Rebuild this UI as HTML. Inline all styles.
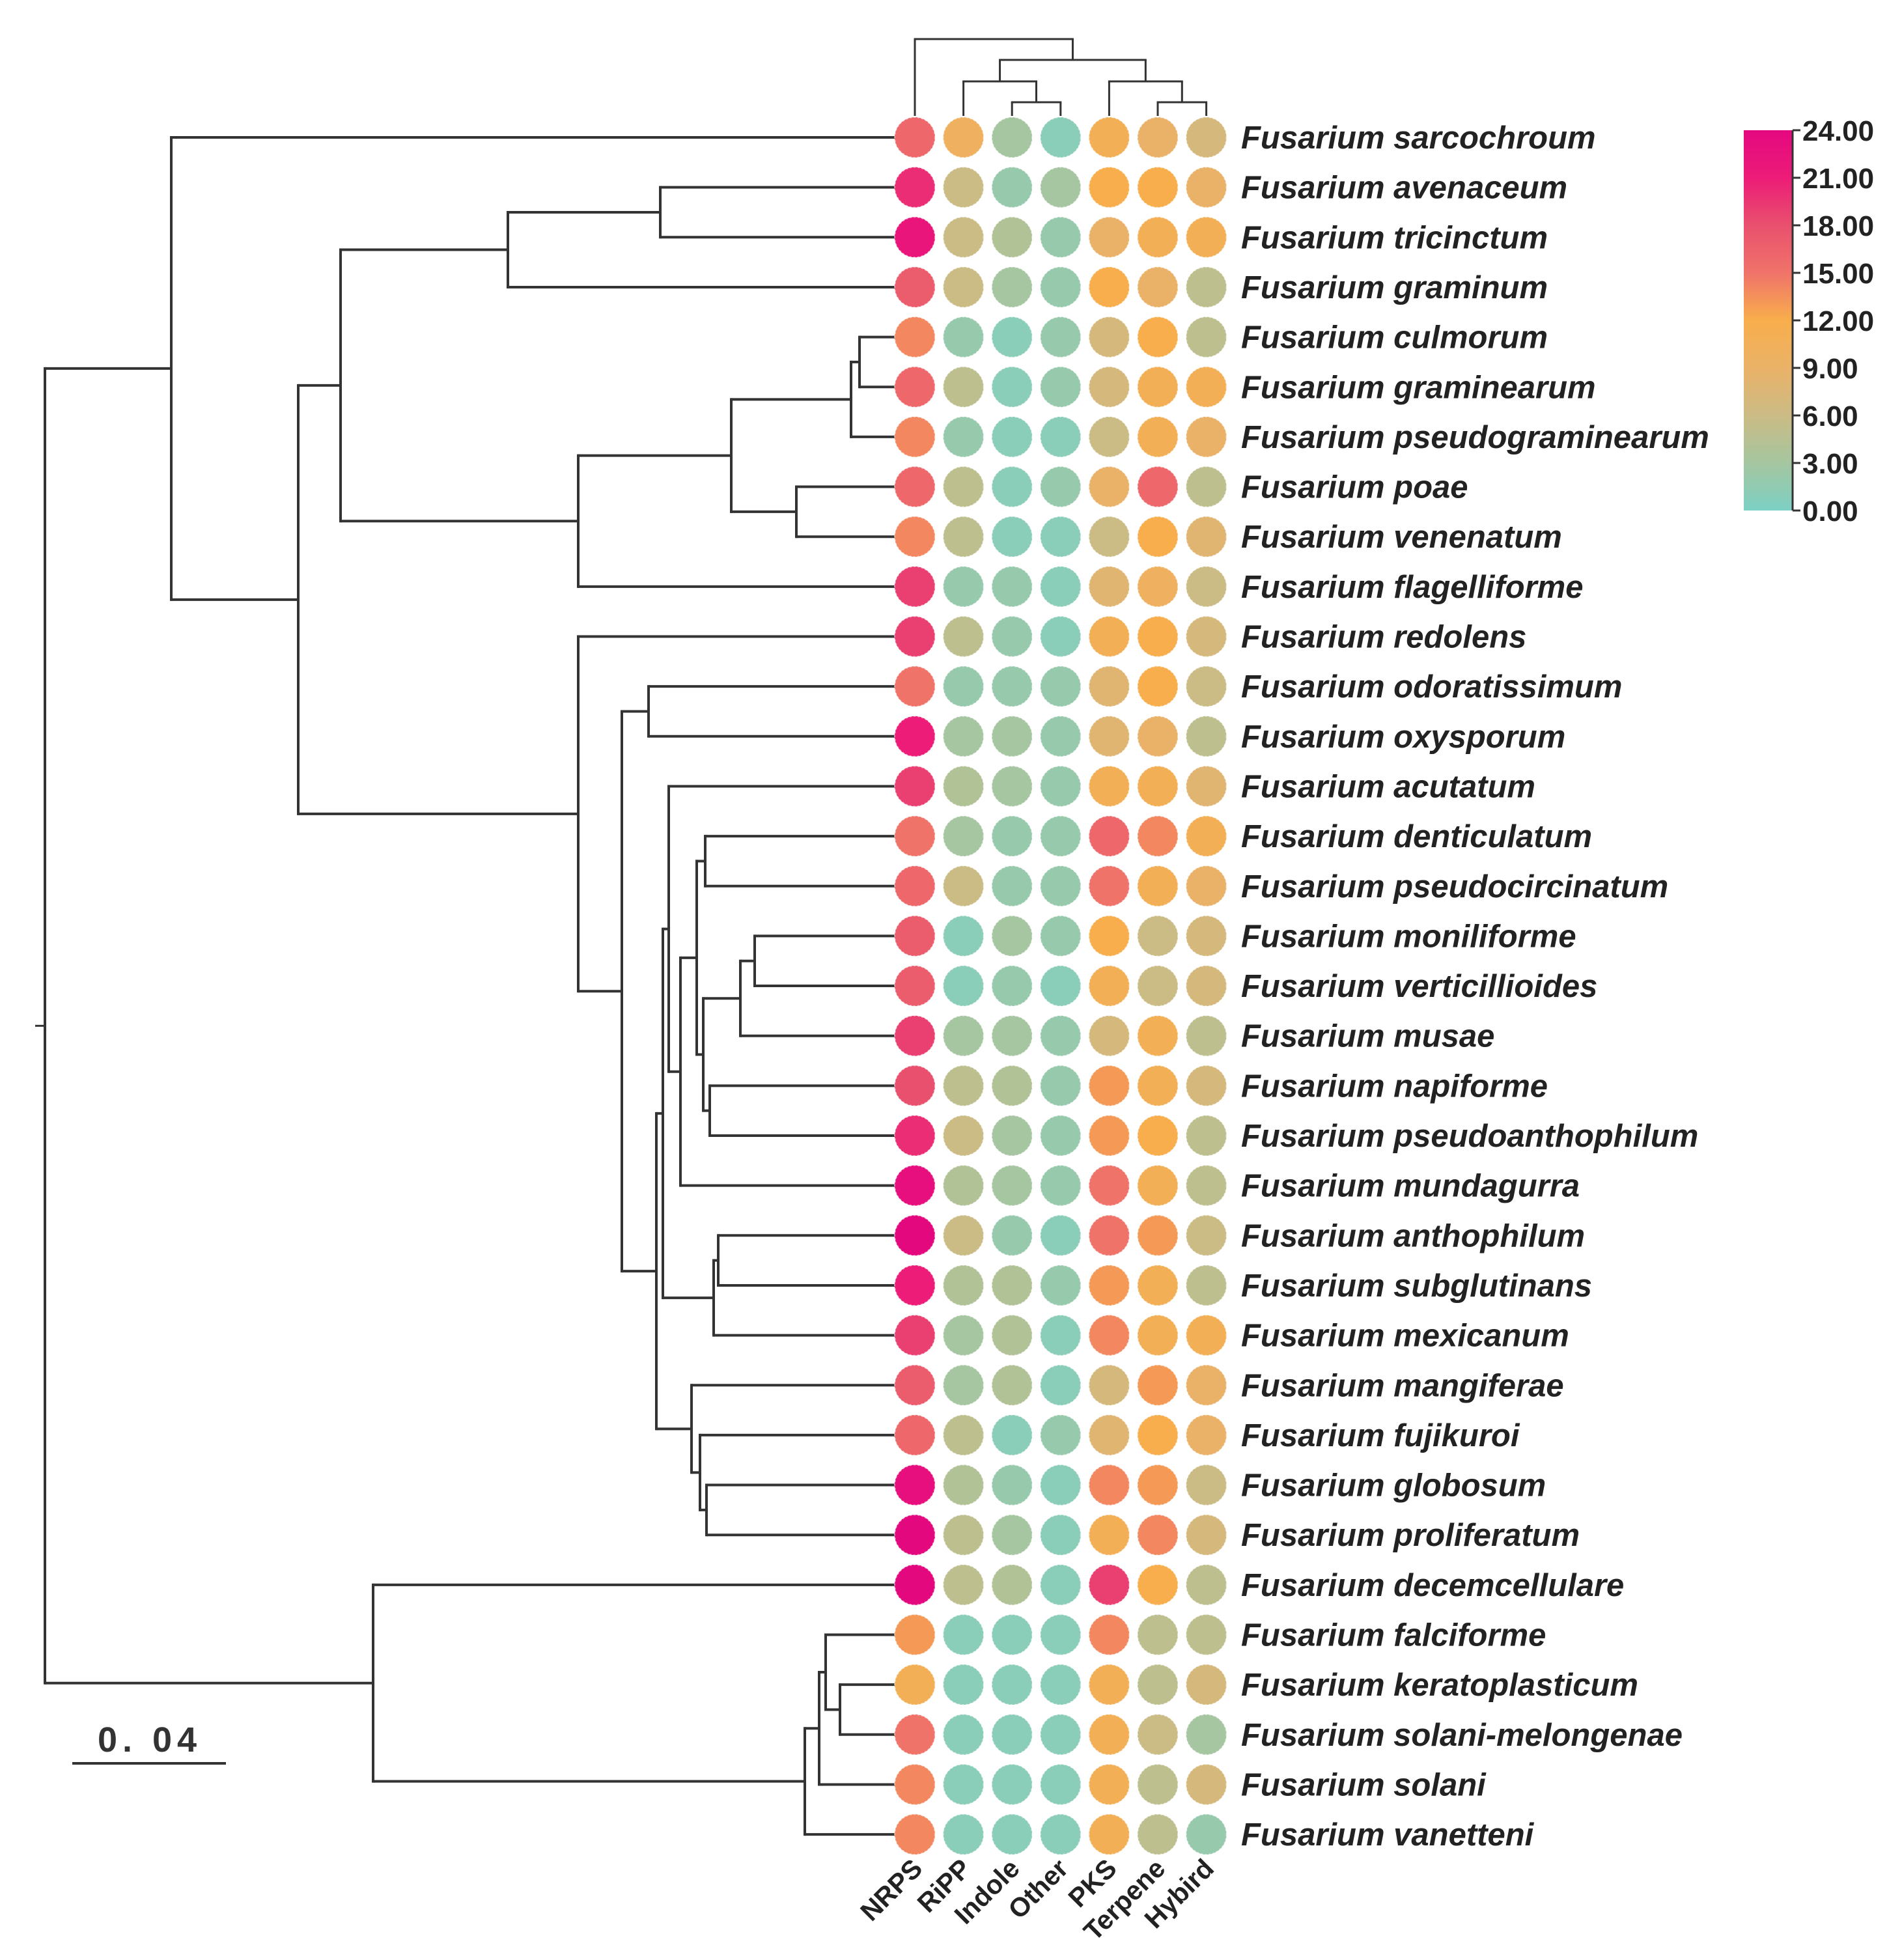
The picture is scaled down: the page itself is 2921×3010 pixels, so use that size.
<!DOCTYPE html>
<html><head><meta charset="utf-8"><style>html,body{margin:0;padding:0;background:#fff}svg{display:block}</style></head>
<body>
<svg id="chart" width="2921" height="3010" viewBox="0 0 2921 3010" xmlns="http://www.w3.org/2000/svg" font-family="Liberation Sans, Arial, sans-serif">
<g id="tree"></g>
<g id="coltree"></g>
<g id="cells"></g>
<g id="rowlabels"></g>
<g id="collabels"></g>
<g id="legend"></g>
<g>
<text x="230" y="2690" font-size="54" font-weight="bold" fill="#333" text-anchor="middle" letter-spacing="8">0. 04</text>
<line x1="111" y1="2708" x2="347" y2="2708" stroke="#333" stroke-width="4"/>
</g>
</svg>
<script>
const species = ["sarcochroum","avenaceum","tricinctum","graminum","culmorum","graminearum","pseudograminearum","poae","venenatum","flagelliforme","redolens","odoratissimum","oxysporum","acutatum","denticulatum","pseudocircinatum","moniliforme","verticillioides","musae","napiforme","pseudoanthophilum","mundagurra","anthophilum","subglutinans","mexicanum","mangiferae","fujikuroi","globosum","proliferatum","decemcellulare","falciforme","keratoplasticum","solani-melongenae","solani","vanetteni"];
const types = ["NRPS","RiPP","Indole","Other","PKS","Terpene","Hybird"];
const NRPS = [16,20,22,17,14,16,14,16,14,19,19,15,21,19,15,16,17,17,19,18,20,23,24,21,19,17,16,23,24,24,13,11,15,14,14];
const RiPP = [10,6,6,6,2,5,2,5,5,2,5,2,3,4,3,6,1,1,3,5,6,4,6,4,3,3,5,4,5,5,1,1,1,1,1];
const Indole = [3,2,4,3,1,1,1,1,1,2,2,2,3,3,2,2,3,2,3,4,3,3,2,4,4,4,1,2,3,4,1,1,1,1,1];
const Other = [1,3,2,2,2,2,1,2,1,1,1,2,2,2,2,2,2,1,2,2,2,2,1,2,1,1,2,1,1,1,1,1,1,1,1];
const PKS = [11,12,9,12,7,7,6,9,6,8,11,8,8,11,16,15,12,11,7,13,13,15,15,13,14,7,8,14,11,19,14,11,11,11,11];
const Terpene = [9,12,11,9,12,11,11,16,12,10,12,12,9,11,14,11,6,6,11,11,12,11,13,11,11,13,12,13,14,12,5,5,6,5,5];
const Hybird = [7,9,11,5,5,11,9,5,8,6,7,6,5,8,11,9,7,7,5,7,5,5,6,5,11,9,9,6,7,5,5,7,3,7,2];
const colorTicks = ["0.00","3.00","6.00","9.00","12.00","15.00","18.00","21.00","24.00"];
// tree: [name, branch-depth, children]; leaves are species indices
const treeNodes = ["root",69,[["A",263,[0,["A1",458,[["A2",523,[["A3",780,[["A4",1014,[1,2]],3]],["A5",888,[["A6",1123,[["A7",1307,[["A8",1320,[4,5]],6]],["A9",1223,[7,8]]]],9]]]],["B",888,[10,["B1",955,[["B2",996,[11,12]],["B3",1008,[["B4",1018,[["B6",1027,[13,["B8",1045,[["B9",1070,[["B10",1083,[14,15]],["B11",1080,[["B12",1137,[["B14",1159,[16,17]],18]],["B13",1090,[19,20]]]]]],21]]]],["B7",1096,[["B15",1103,[22,23]],24]]]],["B5",1062,[25,["B16",1075,[26,["B17",1085,[27,28]]]]]]]]]]]]]]]],["C",573,[29,["C1",1236,[["C2",1258,[["C3",1268,[30,["C4",1290,[31,32]]]],33]],34]]]]]];
const colTree = ["croot",60,[0,["c1",92,[["c2",125,[1,["c3",157,[2,3]]]],["c4",125,[4,["c5",157,[5,6]]]]]]]];

const NS="http://www.w3.org/2000/svg";
const series=[NRPS,RiPP,Indole,Other,PKS,Terpene,Hybird];
const rowY=i=>211+i*76.65, colX=j=>1405+j*74.6;
const leafX=1374, colLeafY=178;
function mk(tag,attrs,parent){const e=document.createElementNS(NS,tag);for(const k in attrs)e.setAttribute(k,attrs[k]);parent.appendChild(e);return e;}
const stops=[[0,[124,208,196]],[3,[165,198,160]],[6,[203,187,133]],[9,[234,178,104]],[12,[248,174,76]],[15,[240,115,106]],[18,[233,80,110]],[21,[236,28,120]],[24,[228,8,127]]];
function color(v){v=Math.max(0,Math.min(24,v));for(let i=0;i<stops.length-1;i++){const[a,ca]=stops[i],[b,cb]=stops[i+1];if(v<=b){const t=(v-a)/(b-a);return "rgb("+ca.map((c,k)=>Math.round(c+(cb[k]-c)*t)).join(",")+")";}}return "rgb(228,8,127)";}
const tg=document.getElementById('tree');
function drawNode(n){ if(typeof n==="number") return rowY(n);
  const ys=n[2].map(c=>{const y=drawNode(c);const x2=typeof c==="number"?leafX:c[1];
    const l=mk('line',{x1:n[1],y1:y,x2:x2,y2:y,stroke:'#333','stroke-width':4},tg);
    
    
    return y;});
  const v=mk('line',{x1:n[1],y1:Math.min(...ys)-2,x2:n[1],y2:Math.max(...ys)+2,stroke:'#333','stroke-width':4},tg);
  
  
  return (Math.min(...ys)+Math.max(...ys))/2;}
const ry=drawNode(treeNodes);
const st=mk('line',{x1:54,y1:ry,x2:treeNodes[1],y2:ry,stroke:'#333','stroke-width':3},tg);


const cg=document.getElementById('coltree');
function drawCol(n){ if(typeof n==="number") return colX(n);
  const xs=n[2].map(c=>{const x=drawCol(c);const y2=typeof c==="number"?colLeafY:c[1];
    const l=mk('line',{x1:x,y1:n[1],x2:x,y2:y2,stroke:'#333','stroke-width':3},cg);
    
    
    return x;});
  const h=mk('line',{x1:Math.min(...xs)-1.5,y1:n[1],x2:Math.max(...xs)+1.5,y2:n[1],stroke:'#333','stroke-width':3},cg);
  
  
  return (Math.min(...xs)+Math.max(...xs))/2;}
drawCol(colTree);
const g=document.getElementById('cells');
series.forEach((arr,j)=>arr.forEach((v,i)=>{
  const c=mk('circle',{cx:colX(j),cy:rowY(i),r:31,fill:color(v),stroke:'rgba(255,255,255,0.5)','stroke-width':2,'stroke-dasharray':'3 3'},g);
  
  
}));
const rl=document.getElementById('rowlabels');
species.forEach((s,i)=>{
  const t=mk('text',{x:1906,y:rowY(i)+17,'font-size':49,'font-weight':'bold','font-style':'italic',fill:'#222'},rl);
  t.textContent='Fusarium '+s;
  
  
});
const cl=document.getElementById('collabels');
types.forEach((s,j)=>{
  const x=colX(j)+14,y=2872;
  const t=mk('text',{x:x,y:y,'font-size':41,'font-weight':'bold',fill:'#222','text-anchor':'end',transform:'rotate(-45 '+x+' '+y+')'},cl);
  t.textContent=s;
  
  
});
const lg=document.getElementById('legend');
const defs=mk('defs',{},lg);
const grad=mk('linearGradient',{id:'cb',x1:0,y1:1,x2:0,y2:0},defs);
stops.forEach(s=>mk('stop',{offset:s[0]/24,'stop-color':color(s[0])},grad));
const bar=mk('rect',{x:2678,y:200,width:75,height:584,fill:'url(#cb)'},lg);


mk('line',{x1:2753,y1:200,x2:2753,y2:784,stroke:'#333','stroke-width':3},lg);
colorTicks.forEach((lab,k)=>{
  const y=784-parseFloat(lab)/24*584;
  mk('line',{x1:2753,y1:y,x2:2765,y2:y,stroke:'#333','stroke-width':3},lg);
  const t=mk('text',{x:2768,y:y+16,'font-size':44,'font-weight':'bold',fill:'#222'},lg);
  t.textContent=lab;
  
  
});
</script>
</body></html>
